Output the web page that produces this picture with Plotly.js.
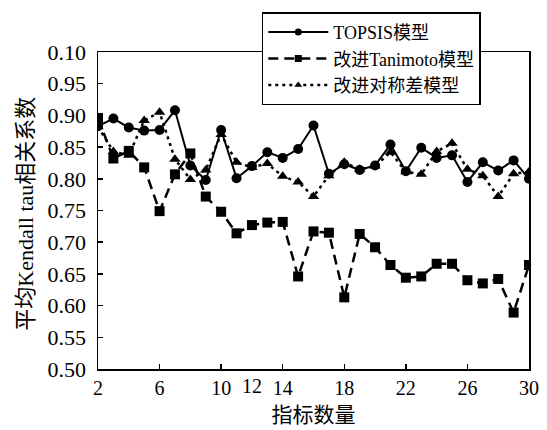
<!DOCTYPE html>
<html>
<head>
<meta charset="utf-8">
<script src="https://cdn.plot.ly/plotly-3.0.1.min.js"></script>
<style>html,body{margin:0;padding:0;background:#fff;}#chart{width:547px;height:430px;}</style>
</head>
<body>
<div id="chart"></div>
<script>
const xValues = [2,3,4,5,6,7,8,9,10,11,12,13,14,15,16,17,18,19,20,21,22,23,24,25,26,27,28,29,30];
const topsis = [0.883,0.895,0.881,0.876,0.877,0.908,0.821,0.798,0.877,0.801,0.820,0.842,0.833,0.847,0.884,0.808,0.823,0.814,0.821,0.854,0.812,0.849,0.833,0.837,0.795,0.826,0.813,0.829,0.800];
const tanimoto = [0.896,0.832,0.844,0.818,0.749,0.807,0.840,0.772,0.748,0.714,0.727,0.731,0.732,0.646,0.717,0.715,0.613,0.713,0.692,0.664,0.644,0.646,0.666,0.666,0.640,0.635,0.642,0.589,0.664];
const symdiff = [0.882,0.843,0.837,0.892,0.905,0.831,0.799,0.814,0.870,0.826,0.818,0.824,0.804,0.795,0.772,0.805,0.826,0.815,0.820,0.842,0.811,0.807,0.843,0.856,0.815,0.805,0.772,0.808,0.811];
const seriesNames = ["TOPSIS模型","改进Tanimoto模型","改进对称差模型"];
const xTickVals = [2,6,10,14,18,22,26,30];
const xTickText = ["2","6","10","14","18","22","26","30"];
const xExtraLabel = "12";
const yTickVals = [0.50,0.55,0.60,0.65,0.70,0.75,0.80,0.85,0.90,0.95,1.00];
const yTickText = ["0.50","0.55","0.60","0.65","0.70","0.75","0.80","0.85","0.90","0.95","0.10"];
const xTitle = "指标数量";
const yTitle = "平均Kendall tau相关系数";

const FONT = "Liberation Serif, 'Times New Roman', 'Noto Sans CJK SC', serif";
const seriesData = [topsis, tanimoto, symdiff];
const symbols = ["circle", "square", "triangle-up"];
const lineStyles = [{color: "#000", width: 2}, {color: "#000", width: 2.5, dash: "10px,6px"}, {color: "#000", width: 2.5, dash: "3px,4px"}];
const traces = [];
seriesData.forEach((ys, i) => {
  traces.push({x: xValues, y: ys, name: seriesNames[i], mode: "lines+markers", showlegend: false,
    line: lineStyles[i], marker: {symbol: symbols[i], size: 10, color: "#000"}});
});
// legend-only entries with smaller markers, like the reference legend
seriesNames.forEach((n, i) => {
  traces.push({x: [null], y: [null], name: n, mode: "lines+markers", showlegend: true,
    line: lineStyles[i], marker: {symbol: symbols[i], size: 7, color: "#000"}});
});
const layout = {
  width: 547, height: 430,
  margin: {l: 98, r: 18, t: 50, b: 61},
  paper_bgcolor: "#fff", plot_bgcolor: "#fff",
  font: {family: FONT, color: "#000", size: 20},
  showlegend: true,
  legend: {x: 0.38, y: 1.125, xanchor: "left", yanchor: "top", bgcolor: "#fff",
    bordercolor: "#000", borderwidth: 1.5, font: {family: FONT, size: 18, color: "#000"},
    tracegroupgap: 0, itemwidth: 60, entrywidth: 180},
  xaxis: {range: [2, 30], tickvals: xTickVals, ticktext: xTickText, ticks: "inside", ticklen: 5,
    tickcolor: "#000", tickwidth: 1.5, showline: true, linecolor: "#000", linewidth: 1.5, mirror: true,
    showgrid: false, zeroline: false, tickfont: {family: FONT, size: 20, color: "#000"},
    title: {text: xTitle, font: {family: FONT, size: 21, color: "#000"}, standoff: 10}},
  yaxis: {range: [0.5, 1.0], tickvals: yTickVals, ticktext: yTickText, ticks: "inside", ticklen: 5,
    tickcolor: "#000", tickwidth: 1.5, showline: true, linecolor: "#000", linewidth: 1.5, mirror: true,
    showgrid: false, zeroline: false, ticklabelstandoff: 6, tickfont: {family: FONT, size: 22, color: "#000"}},
  annotations: [
    {x: 12, y: 0, xref: "x", yref: "paper", yshift: -4, text: xExtraLabel, showarrow: false,
     xanchor: "center", yanchor: "top", font: {family: FONT, size: 20, color: "#000"}},
    {x: 0, y: 0.49, xref: "paper", yref: "paper", xshift: -72, text: yTitle, textangle: -90, showarrow: false,
     xanchor: "center", yanchor: "middle", font: {family: FONT, size: 22, color: "#000"}}
  ]
};
Plotly.newPlot("chart", traces, layout, {displayModeBar: false, staticPlot: true});
</script>
</body>
</html>
